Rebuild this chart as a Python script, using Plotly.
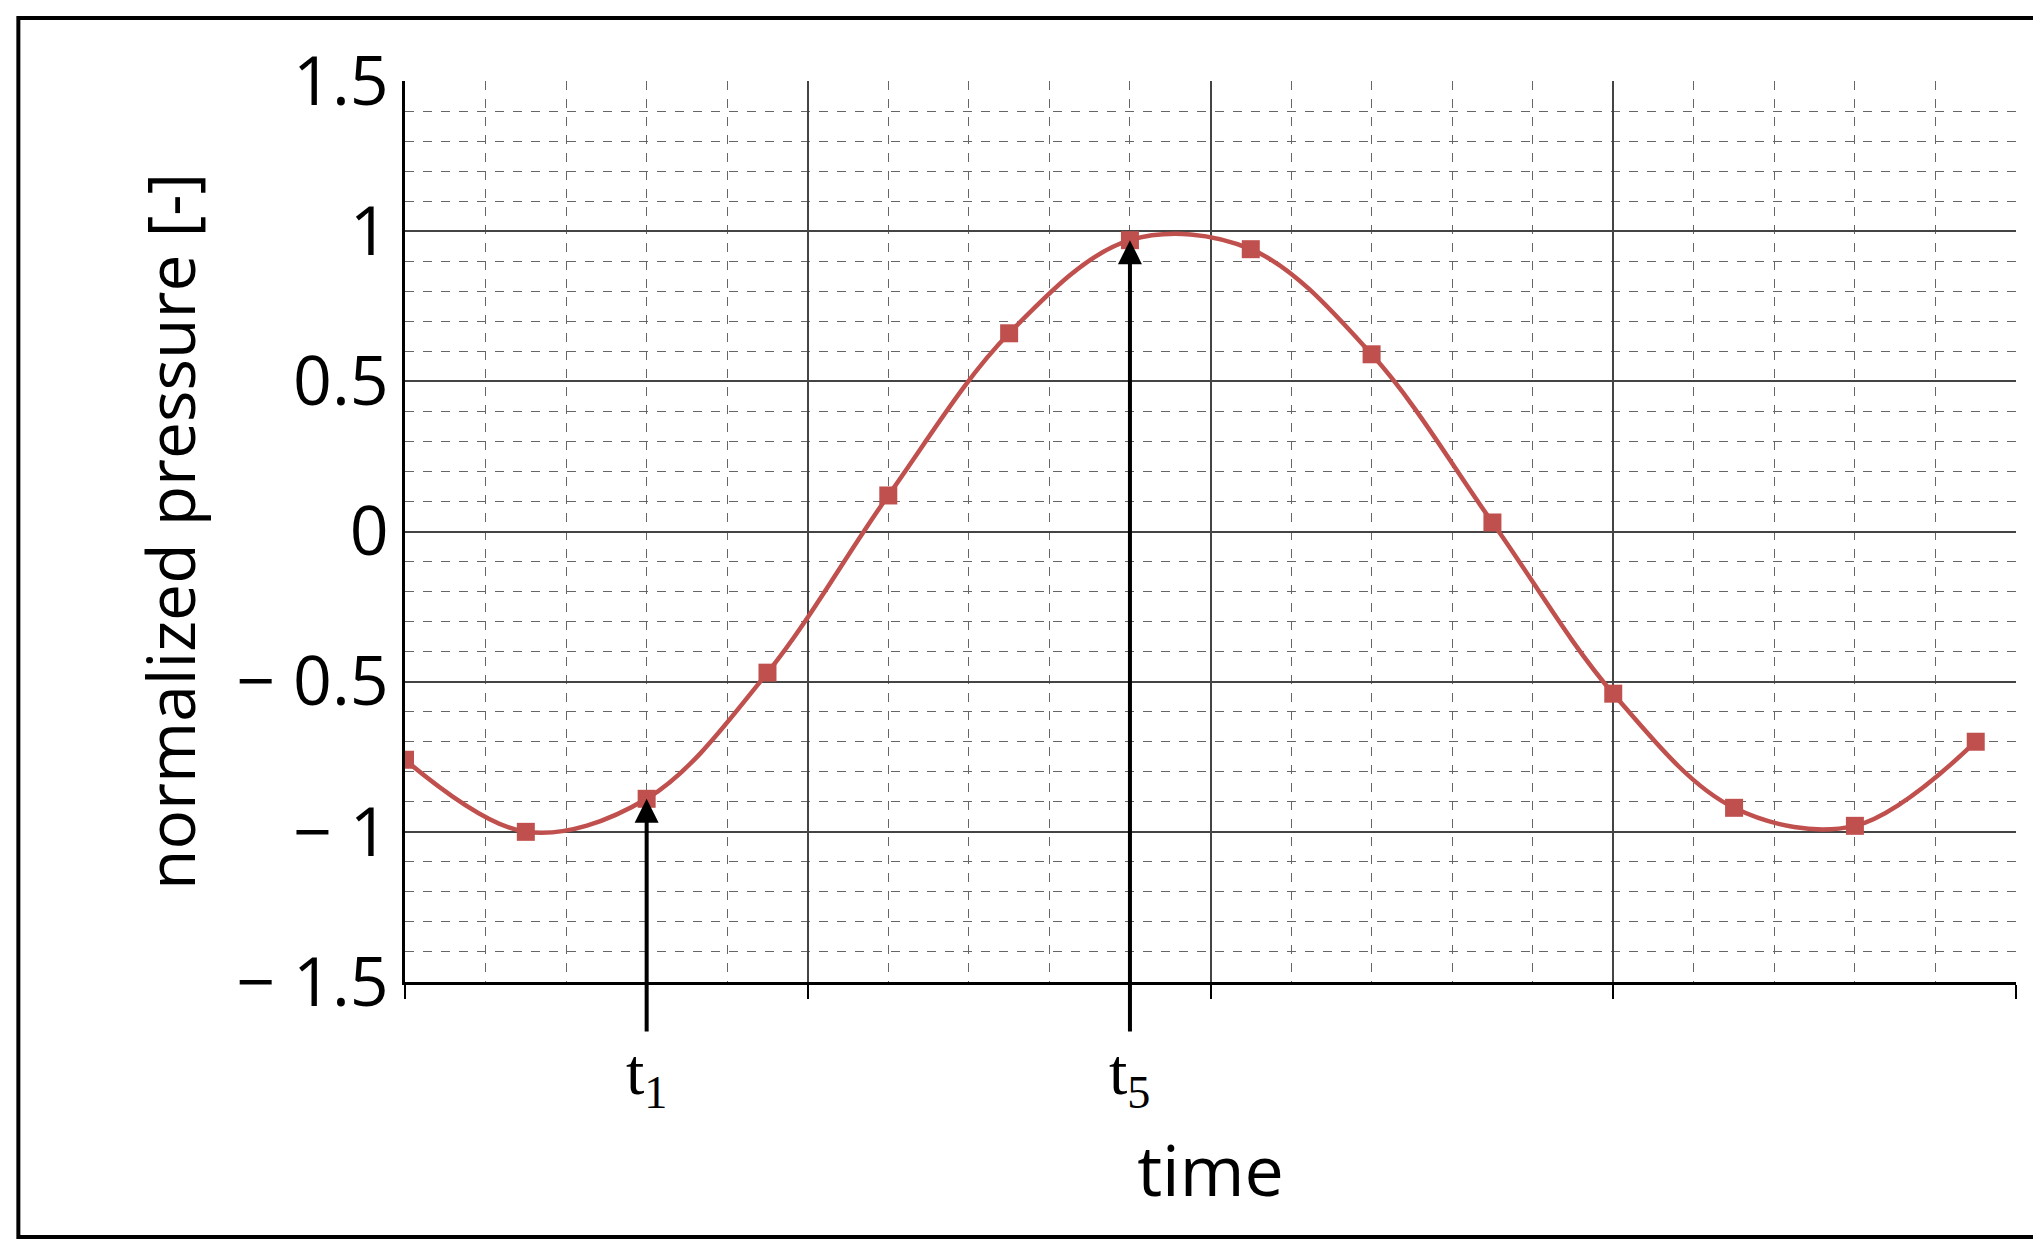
import plotly.graph_objects as go

time = [0, 3, 6, 9, 12, 15, 18, 21, 24, 27, 30, 33, 36, 39]
pressure = [-0.76, -1.0, -0.89, -0.47, 0.12, 0.66, 0.97, 0.94, 0.59, 0.03, -0.54, -0.92, -0.98, -0.70]
ytickvals = [-1.5, -1, -0.5, 0, 0.5, 1, 1.5]
yticktext = ["\u2212 1.5", "\u2212 1", "\u2212 0.5", "0", "0.5", "1", "1.5"]
arrow_labels = [(6, -0.89, "t<sub>1</sub>"), (18, 0.97, "t<sub>5</sub>")]

fig = go.Figure(go.Scatter(x=time, y=pressure, mode="lines+markers",
    line=dict(color="#c0504d", width=4.5, shape="spline", smoothing=1.0),
    marker=dict(symbol="square", size=18, color="#c0504d")))

ann = []
for x, y, t in arrow_labels:
    ann.append(dict(x=x, y=y, ax=x, ay=-1.67, xref="x", yref="y", axref="x", ayref="y",
                    showarrow=True, arrowhead=2, arrowsize=1.2, arrowwidth=4, arrowcolor="black", text=""))
    ann.append(dict(x=x, y=-0.105, xref="x", yref="paper", text=t, showarrow=False, yanchor="middle",
                    font=dict(family="Liberation Serif", size=66, color="black")))

fig.update_layout(
    width=2041, height=1239, paper_bgcolor="white", plot_bgcolor="white",
    margin=dict(l=397, r=33, t=73, b=265), showlegend=False,
    font=dict(family="Open Sans", color="black"),
    annotations=ann,
    shapes=[dict(type="rect", xref="paper", yref="paper", x0=-0.240, x1=1.0143, y0=-0.283, y1=1.07,
                 line=dict(color="black", width=4))],
    xaxis=dict(range=[0, 40], tickvals=[0, 10, 20, 30, 40], showticklabels=False, ticks="outside",
               ticklen=14, tickcolor="black", tickwidth=2, showgrid=True, gridcolor="#444", gridwidth=1.8,
               showline=True, linecolor="black", linewidth=2.5, zeroline=False,
               minor=dict(dtick=2, showgrid=True, gridcolor="#666", griddash="dash", gridwidth=1.4),
               title=dict(text="time", font=dict(size=70), standoff=150)),
    yaxis=dict(range=[-1.5, 1.5], tickvals=ytickvals, ticktext=yticktext, tickfont=dict(size=68),
               showgrid=True, gridcolor="#444", gridwidth=1.8, showline=True, linecolor="black",
               linewidth=2.5, zeroline=False, ticks="",
               minor=dict(dtick=0.1, showgrid=True, gridcolor="#666", griddash="dash", gridwidth=1.4),
               title=dict(text="normalized pressure [-]", font=dict(size=66), standoff=20)),
)
fig.write_html("out.html")
